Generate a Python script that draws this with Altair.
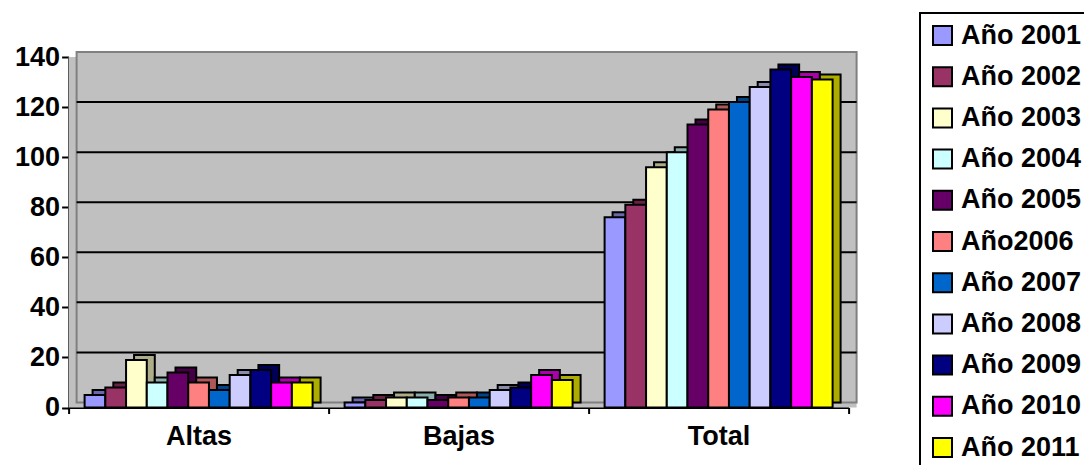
import altair as alt
import pandas as pd

categories = ["Altas", "Bajas", "Total"]
series = ["Año 2001", "Año 2002", "Año 2003", "Año 2004", "Año 2005", "Año2006",
          "Año 2007", "Año 2008", "Año 2009", "Año 2010", "Año 2011"]
altas = [5, 8, 19, 10, 14, 10, 7, 13, 15, 10, 10]
bajas = [2, 3, 4, 4, 3, 4, 4, 7, 8, 13, 11]
total = [76, 81, 96, 102, 113, 119, 122, 128, 135, 132, 131]
colors = ["#9999FF", "#993366", "#FFFFCC", "#CCFFFF", "#660066", "#FF8080",
          "#0066CC", "#CCCCFF", "#000080", "#FF00FF", "#FFFF00"]
y_ticks = [0, 20, 40, 60, 80, 100, 120, 140]
grid_values = [20, 40, 60, 80, 100, 120]

FONT = "Liberation Sans"
W, H = 780, 350.5
DX, DY = 8, 5          # 3D depth offset
BAND = W / len(categories)
PO = 0.772


def darker(hex_color, f=0.68):
    h = hex_color.lstrip("#")
    r, g, b = (int(h[i:i + 2], 16) for i in (0, 2, 4))
    return "#{:02X}{:02X}{:02X}".format(int(r * f), int(g * f), int(b * f))


rows = []
for cat, vals in zip(categories, [altas, bajas, total]):
    for s, v, c in zip(series, vals, colors):
        rows.append({"cat": cat, "year": s, "value": v, "shade": darker(c)})
df = pd.DataFrame(rows)

yscale = alt.Scale(domain=[0, 140], nice=False)
xscale = alt.Scale(paddingInner=0, paddingOuter=0)

xaxis = alt.Axis(title=None, labelAngle=0, labelFont=FONT, labelFontSize=27,
                 labelFontWeight="bold", labelColor="black", tickBand="extent",
                 tickSize=6, tickColor="black", tickWidth=2, domainColor="black",
                 domainWidth=2, labelPadding=10, grid=False)
yaxis = alt.Axis(title=None, values=y_ticks, labelFont=FONT, labelFontSize=27,
                 labelFontWeight="bold", labelColor="black", tickSize=7,
                 tickColor="black", tickWidth=2, domainColor="black",
                 domainWidth=2, labelPadding=2, grid=False)

wall = alt.Chart(alt.Data(values=[{"a": 1}])).mark_rect(
    fill="#C0C0C0", stroke="#808080", strokeWidth=2
).encode(x=alt.value(DX), x2=alt.value(W + DX), y=alt.value(-DY), y2=alt.value(H - DY))

side = alt.Chart(alt.Data(values=[{"a": 1}])).mark_rect(
    fill="#C0C0C0"
).encode(x=alt.value(0), x2=alt.value(W + DX), y=alt.value(0), y2=alt.value(H))

grid = alt.Chart(pd.DataFrame({"v": grid_values})).mark_rule(
    color="black", strokeWidth=2, yOffset=-DY
).encode(y=alt.Y("v:Q", scale=yscale, axis=yaxis),
         x=alt.value(DX), x2=alt.value(W + DX))

shadow = alt.Chart(df).mark_bar(
    stroke="black", strokeWidth=2, yOffset=-DY, y2Offset=-DY
).encode(
    x=alt.X("cat:N", sort=categories, scale=xscale, axis=xaxis),
    xOffset=alt.XOffset("year:N", sort=series,
                        scale=alt.Scale(domain=series, range=[DX, BAND + DX],
                                        paddingOuter=PO, paddingInner=0)),
    y=alt.Y("value:Q", scale=yscale, axis=yaxis),
    color=alt.Color("shade:N", scale=None),
)

front = alt.Chart(df).mark_bar(stroke="black", strokeWidth=2).encode(
    x=alt.X("cat:N", sort=categories, scale=xscale, axis=xaxis),
    xOffset=alt.XOffset("year:N", sort=series,
                        scale=alt.Scale(domain=series, paddingOuter=PO, paddingInner=0)),
    y=alt.Y("value:Q", scale=yscale, axis=yaxis),
    color=alt.Color("year:N", scale=alt.Scale(domain=series, range=colors),
                    legend=alt.Legend(title=None, orient="none", legendX=851.4,
                                      legendY=-44, symbolType="square",
                                      symbolSize=361, symbolStrokeColor="black",
                                      symbolStrokeWidth=2, symbolOpacity=1,
                                      labelFont=FONT, labelFontSize=27,
                                      labelFontWeight="bold", labelColor="black",
                                      labelOffset=5, rowPadding=13.2, padding=9,
                                      strokeColor="black")),
)

chart = alt.layer(side, wall, grid, shadow, front).resolve_scale(
    xOffset="independent", color="independent"
).properties(
    width=W, height=H,
    padding={"left": 60.6, "top": 49, "right": 235.4, "bottom": 57.5},
    autosize=alt.AutoSizeParams(type="none"),
    background="white",
).configure_view(stroke=None).configure_legend(strokeWidth=2)

chart.save("out.html", embed_options={"renderer": "svg", "actions": False})
